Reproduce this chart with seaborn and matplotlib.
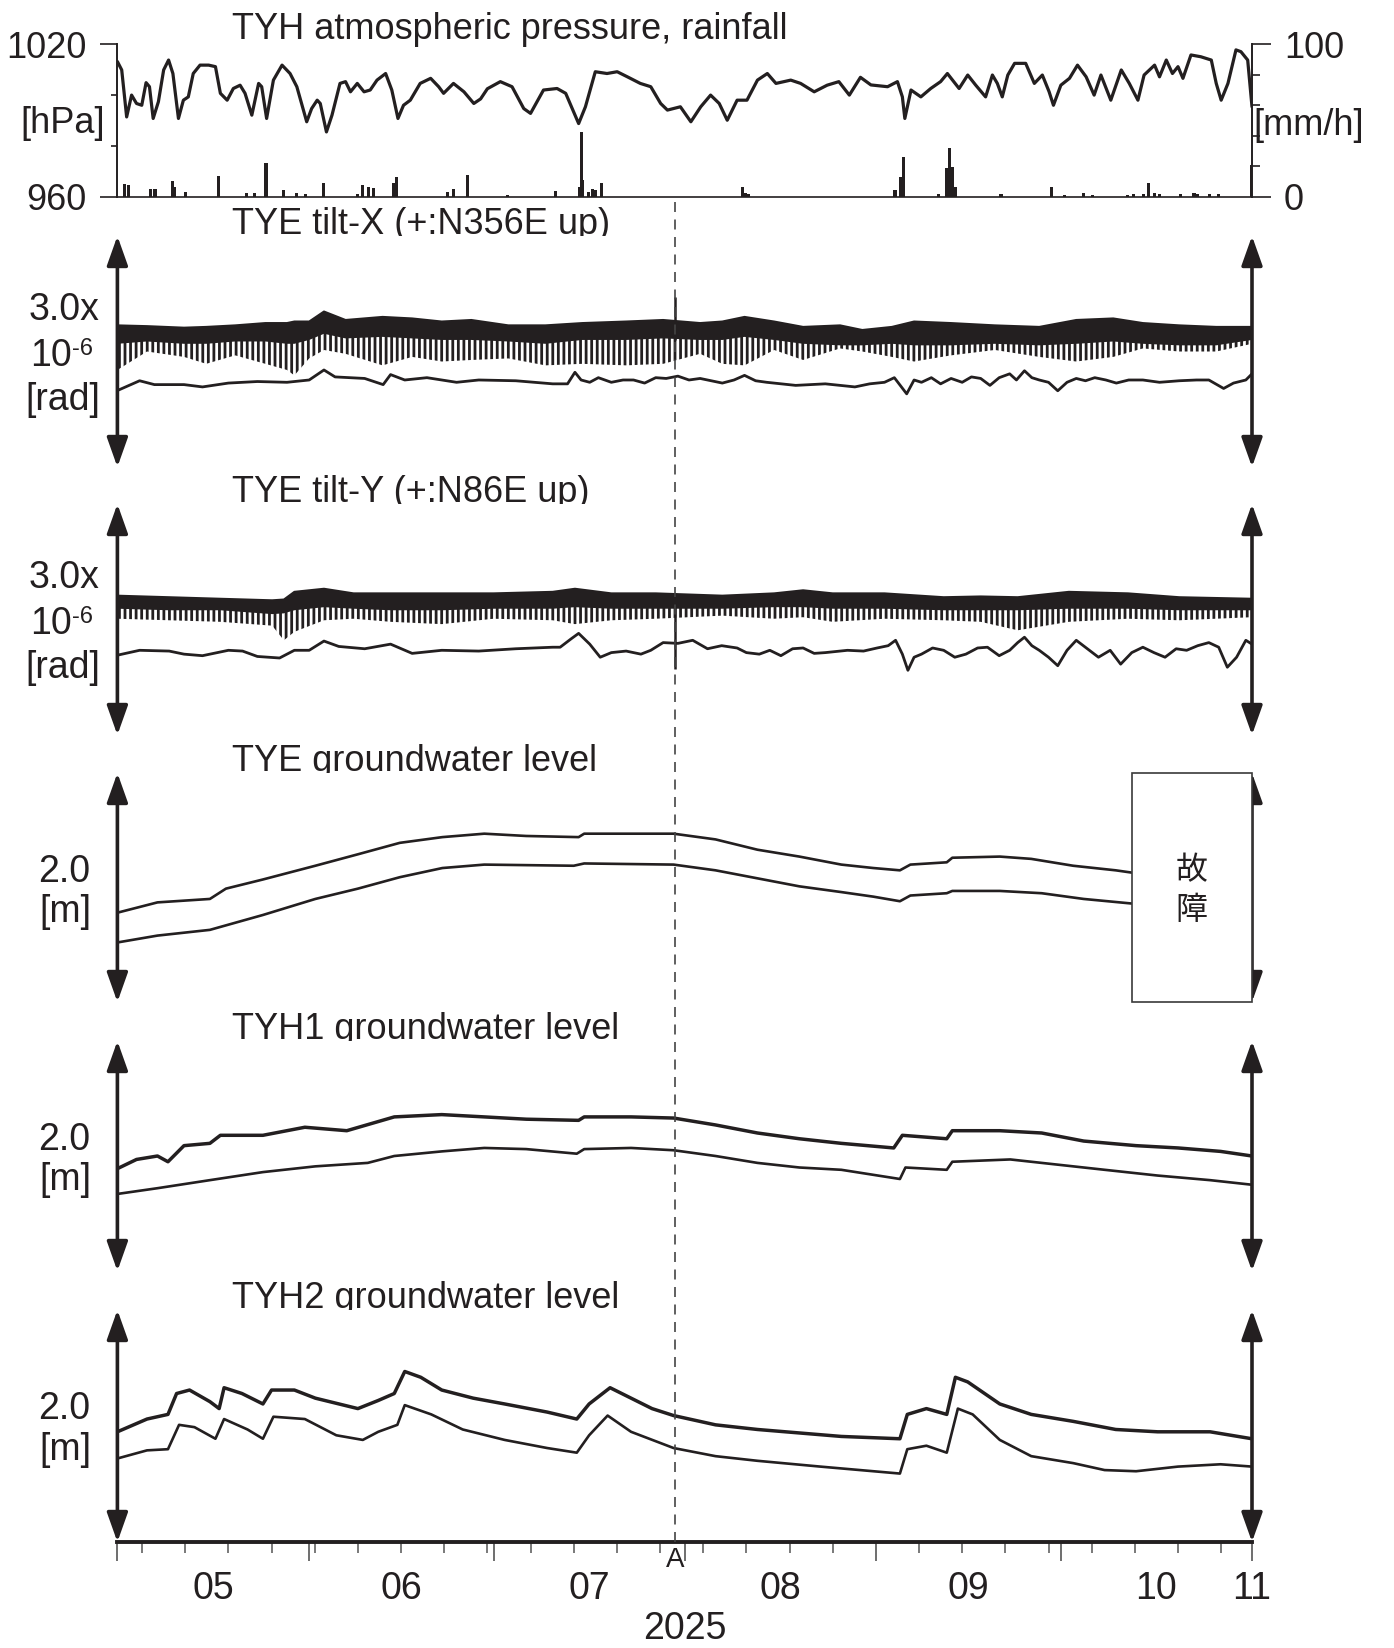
import numpy as np
import pandas as pd
import matplotlib
matplotlib.use("Agg")
import matplotlib.pyplot as plt
import seaborn as sns
from matplotlib.patches import Rectangle

sns.set_theme(style="white")
plt.rcParams["font.family"] = ["Liberation Sans", "DejaVu Sans"]
plt.rcParams["hatch.linewidth"] = 2.0
INK = "#231f20"

# ---------------- data (days since 2025-05-01) ----------------
p_day = [0, 0.7, 1.5, 2.3, 3.1, 3.95, 4.65, 5.2, 5.8, 6.65,
         7.5, 8.3, 9.0, 9.9, 10.7, 11.5, 12.3, 13.4, 14.8, 15.9,
         16.7, 17.8, 18.8, 19.9, 20.7, 21.8, 22.9, 23.4, 24.2, 25.3,
         26.7, 28.0, 29.1, 30.7, 31.5, 32.4, 32.9, 33.9, 34.8, 36.1,
         37.0, 37.8, 38.9, 40.0, 41.0, 42.1, 43.5, 44.5, 45.5, 46.4,
         47.5, 49.1, 50.8, 52.1, 52.9, 54.5, 56.2, 57.8, 58.9, 60.0,
         62.1, 64.0, 65.9, 67.0, 69.1, 71.3, 72.7, 74.0, 74.8, 75.9,
         77.5, 79.4, 81.05, 82.7, 84.8, 86.5, 88.1, 89.2, 91.3, 93.0,
         94.6, 96.2, 97.6, 98.9, 100.5, 102.1, 103.8, 105.4, 106.8, 109.2,
         110.8, 113.0, 115.1, 117.0, 118.7, 120.5, 122.2, 124.9, 126.5, 127.3,
         127.7, 128.7, 130.3, 131.9, 133.5, 134.6, 136.5, 137.9, 139.2, 140.8,
         141.9, 142.7, 143.5, 144.4, 145.5, 147.3, 148.7, 150.0, 151.1, 151.8,
         153.0, 154.4, 155.7, 157.1, 158.4, 159.5, 161.1, 162.8, 164.1, 165.5,
         166.5, 168.2, 169.0, 170.1, 171.1, 172.0, 172.8, 174.1, 175.7, 177.4,
         178.2, 179.0, 180.1, 181.4, 182.2, 183.3, 184.0]
p_hpa = [1013.2, 1009.9, 991.4, 1000.0, 996.7, 996.0, 1004.9, 1003.3, 990.8, 997.4,
         1009.9, 1013.8, 1008.5, 990.8, 998.0, 999.3, 1008.5, 1011.8, 1011.8, 1011.2,
         1000.7, 998.0, 1002.6, 1003.9, 1000.7, 992.1, 1004.6, 1003.3, 990.8, 1005.9,
         1011.8, 1008.5, 1003.3, 989.5, 994.7, 998.0, 996.7, 985.5, 992.1, 1004.6,
         1005.3, 1001.3, 1004.6, 1001.3, 1002.0, 1005.9, 1008.5, 1002.0, 990.8, 996.0,
         998.0, 1004.6, 1006.6, 1003.3, 1000.7, 1004.6, 1001.3, 996.7, 998.5, 1002.5,
         1005.3, 1003.3, 994.7, 992.8, 1002.0, 1002.6, 1000.7, 993.4, 988.8, 995.4,
         1009.2, 1008.5, 1009.2, 1007.2, 1004.6, 1003.3, 996.7, 994.1, 995.4, 989.5,
         995.4, 1000.0, 996.7, 990.1, 998.0, 998.0, 1005.9, 1008.5, 1004.6, 1005.9,
         1004.6, 1001.3, 1003.9, 1005.3, 1000.0, 1007.0, 1004.0, 1003.3, 1005.3, 999.3,
         990.8, 1002.0, 999.3, 1002.6, 1005.3, 1008.5, 1002.6, 1007.9, 1003.9, 999.3,
         1007.9, 1004.6, 999.3, 1007.9, 1012.5, 1012.5, 1004.6, 1007.9, 1001.3, 996.0,
         1003.9, 1006.6, 1011.8, 1007.2, 1000.0, 1007.9, 998.0, 1009.9, 1004.6, 998.0,
         1007.9, 1011.8, 1007.2, 1013.8, 1008.5, 1011.2, 1006.6, 1015.8, 1015.1, 1013.8,
         1004.6, 998.0, 1004.6, 1017.8, 1017.1, 1013.8, 995.4]

r_day = [1.2, 1.8, 5.3, 6.1, 8.9, 9.2, 11.1, 16.4, 21.0, 22.3,
         24.1, 26.9, 29.1, 30.5, 33.4, 38.9, 39.8, 40.7, 41.6, 44.8,
         45.2, 53.5, 54.5, 56.8, 63.2, 71.1, 75.0, 75.2, 75.5, 76.4,
         77.0, 77.5, 78.5, 101.3, 101.9, 102.4, 126.1, 127.0, 127.5, 133.1,
         134.4, 134.9, 135.4, 135.9, 143.3, 151.5, 153.6, 156.7, 158.2, 163.8,
         164.8, 166.4, 167.2, 168.2, 169.0, 172.4, 174.6, 175.1, 177.1, 178.6,
         183.9]
r_mmh = [8.3, 7.7, 4.8, 4.8, 10.5, 6.6, 3.3, 13.6, 2.2, 2.2,
         21.9, 4.4, 2.2, 1.7, 8.7, 1.7, 7.7, 6.6, 5.5, 8.7,
         12.7, 3.3, 4.8, 14.2, 1.3, 3.7, 6.1, 42.6, 10.9, 3.3,
         4.8, 4.4, 9.2, 6.6, 2.6, 1.7, 4.4, 13.1, 25.8, 1.7,
         18.6, 31.7, 19.7, 6.6, 1.7, 6.6, 1.1, 2.2, 1.1, 1.1,
         1.7, 1.7, 8.7, 2.6, 1.5, 1.5, 2.6, 1.7, 1.7, 1.5,
         20.8]

# tilt-X raw record: envelope (top / dense body / tidal spike bottom), 1e-6 rad
tx_band_day = [0.0, 4.8, 10.8, 14.4, 19.1, 24.0, 27.5, 28.7, 31.1, 33.5,
               37.0, 43.0, 47.8, 52.6, 57.4, 63.4, 69.4, 75.4, 82.5, 88.5,
               94.5, 98.1, 101.7, 106.5, 111.2, 117.2, 120.8, 125.6, 129.2, 135.2,
               142.3, 149.5, 155.5, 161.5, 166.3, 172.2, 178.2, 184.0]
tx_top = [1.84, 1.83, 1.81, 1.82, 1.84, 1.87, 1.87, 1.89, 1.89, 2.02,
          1.91, 1.95, 1.93, 1.89, 1.91, 1.84, 1.84, 1.87, 1.89, 1.91,
          1.87, 1.89, 1.95, 1.89, 1.82, 1.84, 1.78, 1.82, 1.89, 1.87,
          1.84, 1.82, 1.91, 1.93, 1.87, 1.84, 1.82, 1.82]
tx_body = [1.60, 1.63, 1.60, 1.60, 1.63, 1.63, 1.60, 1.60, 1.65, 1.73,
           1.67, 1.69, 1.67, 1.65, 1.65, 1.63, 1.60, 1.65, 1.65, 1.67,
           1.65, 1.65, 1.69, 1.65, 1.60, 1.58, 1.58, 1.60, 1.58, 1.58,
           1.60, 1.58, 1.60, 1.63, 1.60, 1.58, 1.58, 1.65]
tx_spike = [1.26, 1.50, 1.43, 1.34, 1.45, 1.34, 1.26, 1.19, 1.41, 1.52,
            1.47, 1.32, 1.43, 1.37, 1.39, 1.41, 1.32, 1.34, 1.32, 1.34,
            1.47, 1.34, 1.32, 1.52, 1.39, 1.54, 1.50, 1.43, 1.37, 1.45,
            1.52, 1.43, 1.37, 1.43, 1.54, 1.50, 1.50, 1.60]
tx_low_day = [0.2, 3.6, 6.0, 10.8, 13.8, 18.0, 22.7, 27.5, 31.1, 33.5,
              35.3, 40.1, 43.1, 44.3, 46.6, 50.2, 55.0, 58.6, 64.6, 70.6,
              73.0, 74.2, 75.2, 76.6, 78.0, 80.1, 82.0, 83.7, 85.5, 87.3,
              89.0, 90.9, 92.7, 94.5, 98.1, 100.0, 101.7, 103.5, 105.3, 110.0,
              114.8, 119.6, 122.0, 124.4, 126.0, 128.0, 129.2, 130.4, 132.0, 133.5,
              135.2, 137.0, 138.5, 140.0, 141.5, 143.0, 144.7, 145.8, 147.1, 148.3,
              149.5, 151.0, 152.5, 154.0, 155.5, 157.0, 158.5, 160.3, 162.0, 164.0,
              166.3, 169.0, 172.2, 175.0, 177.0, 179.4, 181.0, 183.0, 184.0]
tx_low = [1.00, 1.12, 1.07, 1.07, 1.04, 1.09, 1.11, 1.10, 1.13, 1.26,
          1.17, 1.15, 1.07, 1.20, 1.13, 1.16, 1.10, 1.13, 1.12, 1.08,
          1.08, 1.23, 1.13, 1.10, 1.16, 1.10, 1.13, 1.13, 1.09, 1.16,
          1.15, 1.18, 1.13, 1.15, 1.09, 1.13, 1.19, 1.12, 1.10, 1.06,
          1.08, 1.04, 1.08, 1.10, 1.16, 0.95, 1.13, 1.10, 1.16, 1.08,
          1.15, 1.10, 1.17, 1.15, 1.06, 1.16, 1.21, 1.13, 1.25, 1.16,
          1.13, 1.10, 0.99, 1.10, 1.15, 1.12, 1.16, 1.13, 1.09, 1.13,
          1.13, 1.10, 1.12, 1.13, 1.13, 1.02, 1.09, 1.13, 1.21]

ty_band_day = [0.0, 8.4, 16.7, 25.1, 27.0, 28.7, 33.5, 38.3, 44.3, 52.6,
               61.0, 70.6, 74.2, 80.1, 87.3, 98.1, 106.5, 111.2, 116.0, 124.4,
               134.0, 140.0, 146.0, 154.3, 163.9, 172.2, 184.0]
ty_top = [1.81, 1.79, 1.77, 1.75, 1.76, 1.86, 1.90, 1.84, 1.84, 1.84,
          1.84, 1.86, 1.90, 1.84, 1.84, 1.81, 1.84, 1.88, 1.84, 1.84,
          1.79, 1.80, 1.79, 1.86, 1.84, 1.79, 1.77]
ty_body = [1.64, 1.62, 1.62, 1.57, 1.58, 1.62, 1.66, 1.64, 1.62, 1.62,
           1.64, 1.64, 1.66, 1.64, 1.64, 1.64, 1.66, 1.66, 1.64, 1.64,
           1.62, 1.62, 1.62, 1.64, 1.64, 1.62, 1.62]
ty_spike = [1.51, 1.49, 1.47, 1.42, 1.23, 1.34, 1.49, 1.51, 1.47, 1.44,
            1.51, 1.49, 1.44, 1.49, 1.51, 1.55, 1.51, 1.53, 1.47, 1.51,
            1.49, 1.47, 1.36, 1.47, 1.51, 1.49, 1.53]
ty_low_day = [0.2, 3.6, 8.4, 10.8, 13.8, 18.0, 20.3, 22.7, 26.3, 28.7,
              31.1, 33.5, 35.9, 40.1, 44.3, 47.8, 52.6, 58.6, 64.6, 70.6,
              71.8, 73.6, 74.8, 76.6, 78.3, 80.1, 82.5, 84.9, 86.5, 88.5,
              90.9, 93.3, 95.7, 98.0, 100.5, 102.0, 104.1, 105.8, 107.6, 109.5,
              111.2, 113.0, 114.8, 118.4, 121.0, 123.2, 125.0, 126.2, 127.3, 128.2,
              129.2, 130.4, 132.2, 134.0, 135.8, 137.6, 139.5, 141.1, 143.0, 144.7,
              146.0, 147.1, 148.3, 149.5, 151.0, 152.5, 154.0, 155.5, 157.3, 159.1,
              161.0, 162.7, 164.5, 166.3, 168.1, 169.9, 171.7, 173.4, 175.2, 177.0,
              178.6, 180.0, 181.5, 183.0, 184.0]
ty_low = [1.04, 1.10, 1.09, 1.05, 1.03, 1.10, 1.09, 1.02, 1.00, 1.10,
          1.10, 1.22, 1.15, 1.12, 1.18, 1.06, 1.10, 1.09, 1.12, 1.14,
          1.14, 1.25, 1.32, 1.18, 1.01, 1.07, 1.09, 1.05, 1.10, 1.20,
          1.19, 1.23, 1.12, 1.16, 1.13, 1.07, 1.05, 1.10, 1.03, 1.12,
          1.13, 1.06, 1.07, 1.10, 1.09, 1.13, 1.16, 1.23, 1.05, 0.84,
          1.01, 1.05, 1.13, 1.10, 1.01, 1.05, 1.13, 1.14, 1.03, 1.10,
          1.20, 1.27, 1.16, 1.10, 1.01, 0.90, 1.10, 1.23, 1.12, 1.01,
          1.10, 0.92, 1.07, 1.14, 1.07, 1.01, 1.12, 1.10, 1.16, 1.20,
          1.14, 0.88, 1.01, 1.23, 1.18]
a_day = 90.4          # event "A"
tx_a_peak = 2.21
ty_a_dip = 0.86

# groundwater levels [m] (relative)
tye_up_day = [0.0, 6.5, 15.0, 17.6, 23.6, 32.1, 39.0, 45.8, 52.7, 59.5,
              66.3, 74.8, 75.7, 83.3, 90.2, 97.0, 103.8, 110.6, 117.4, 122.6,
              126.9, 128.6, 134.5, 135.4, 143.1, 148.2, 155.0, 161.9, 164.5]
tye_up = [0.78, 0.87, 0.90, 0.99, 1.07, 1.19, 1.29, 1.39, 1.44, 1.47,
          1.45, 1.44, 1.47, 1.47, 1.47, 1.42, 1.33, 1.27, 1.20, 1.17,
          1.15, 1.20, 1.22, 1.26, 1.27, 1.25, 1.19, 1.15, 1.13]
tye_lo_day = [0.0, 6.5, 15.0, 23.6, 32.1, 39.0, 45.8, 52.7, 59.5, 74.0,
              75.7, 90.2, 97.0, 103.8, 110.6, 117.4, 122.6, 126.9, 128.6, 134.5,
              135.4, 143.1, 149.9, 156.7, 164.5]
tye_lo = [0.52, 0.58, 0.63, 0.76, 0.90, 0.99, 1.09, 1.17, 1.20, 1.19,
          1.21, 1.20, 1.15, 1.08, 1.01, 0.96, 0.92, 0.88, 0.93, 0.95,
          0.97, 0.97, 0.95, 0.90, 0.86]
tye_fault_start = 164.5

tyh1_up_day = [0.0, 3.1, 6.5, 8.2, 10.8, 15.0, 16.7, 23.6, 30.4, 37.2,
               44.9, 52.6, 59.5, 66.3, 74.8, 75.7, 83.3, 90.2, 97.0, 103.8,
               110.6, 117.4, 125.9, 127.3, 134.5, 135.4, 143.1, 149.9, 156.7, 165.2,
               172.0, 178.9, 184.0]
tyh1_up = [0.89, 0.97, 1.00, 0.95, 1.09, 1.11, 1.18, 1.18, 1.25, 1.22,
           1.34, 1.36, 1.34, 1.32, 1.31, 1.34, 1.34, 1.33, 1.27, 1.20,
           1.15, 1.11, 1.07, 1.18, 1.15, 1.22, 1.22, 1.20, 1.13, 1.09,
           1.07, 1.04, 1.00]
tyh1_lo_day = [0.0, 6.5, 15.0, 23.6, 32.1, 40.6, 44.9, 52.6, 59.5, 66.3,
               74.5, 75.7, 83.3, 90.2, 97.0, 103.8, 110.6, 117.4, 126.9, 127.8,
               134.5, 135.4, 144.8, 151.6, 160.1, 168.7, 177.2, 184.0]
tyh1_lo = [0.67, 0.72, 0.79, 0.86, 0.91, 0.94, 1.00, 1.04, 1.07, 1.06,
           1.02, 1.06, 1.07, 1.05, 1.00, 0.94, 0.90, 0.88, 0.80, 0.90,
           0.88, 0.95, 0.97, 0.93, 0.88, 0.83, 0.79, 0.75]

tyh2_up_day = [0.0, 4.8, 8.2, 9.6, 11.7, 15.0, 16.5, 17.3, 20.2, 23.6,
               25.0, 28.7, 32.1, 39.0, 42.3, 44.9, 46.6, 49.2, 52.6, 57.7,
               62.8, 69.7, 74.5, 76.5, 79.9, 83.3, 86.7, 90.2, 97.0, 103.8,
               110.6, 117.4, 126.9, 128.1, 131.2, 134.5, 135.9, 137.9, 143.1, 148.2,
               155.0, 161.9, 168.7, 177.2, 184.0]
tyh2_up = [0.95, 1.06, 1.10, 1.28, 1.31, 1.21, 1.15, 1.33, 1.28, 1.19,
           1.31, 1.31, 1.24, 1.15, 1.22, 1.28, 1.47, 1.42, 1.31, 1.24,
           1.19, 1.12, 1.06, 1.19, 1.33, 1.24, 1.15, 1.09, 1.01, 0.97,
           0.94, 0.91, 0.89, 1.10, 1.15, 1.10, 1.42, 1.38, 1.19, 1.10,
           1.04, 0.97, 0.95, 0.95, 0.89]
tyh2_lo_day = [0.0, 4.8, 8.2, 10.0, 12.5, 15.9, 17.3, 21.1, 23.6, 25.3,
               30.4, 35.5, 39.8, 42.3, 45.4, 46.6, 50.9, 56.0, 62.8, 69.7,
               74.5, 76.5, 79.5, 83.3, 90.2, 97.0, 103.8, 114.0, 126.9, 128.1,
               131.2, 134.5, 136.3, 138.7, 143.1, 148.2, 155.0, 160.1, 165.2, 172.0,
               178.9, 184.0]
tyh2_lo = [0.72, 0.79, 0.80, 1.01, 0.99, 0.89, 1.06, 0.97, 0.89, 1.08,
           1.06, 0.92, 0.88, 0.95, 1.01, 1.18, 1.10, 0.97, 0.88, 0.81,
           0.77, 0.92, 1.09, 0.95, 0.81, 0.74, 0.70, 0.65, 0.59, 0.80,
           0.83, 0.77, 1.15, 1.10, 0.88, 0.74, 0.68, 0.62, 0.61, 0.65,
           0.67, 0.65]

titles = ["TYH atmospheric pressure, rainfall", "TYE tilt-X (+:N356E up)",
          "TYE tilt-Y (+:N86E up)", "TYE groundwater level",
          "TYH1 groundwater level", "TYH2 groundwater level"]
month_labels = ["05", "06", "07", "08", "09", "10", "11"]

# ---------------- layout ----------------
W, H = 1394, 1648
fig = plt.figure(figsize=(W / 100, H / 100), dpi=100)
fig.patch.set_facecolor("white")
X0, X1 = 117.4, 1252.0
start = pd.Timestamp("2025-05-01")
end = pd.Timestamp("2025-11-01")
NDAYS = (end - start).days
NUM = 26          # numeric label size
LAB = 27          # unit label size
TTL = 26          # panel title size


def rect(top, bot):
    return [X0 / W, 1 - bot / H, (X1 - X0) / W, (bot - top) / H]


def ftext(x, y, s, size=LAB, ha="right", va="baseline", **kw):
    kw.setdefault("color", INK)
    return fig.text(x / W, 1 - y / H, s, fontsize=size, ha=ha, va=va, **kw)


def line(ax, d, v, lw):
    sns.lineplot(x=d, y=v, ax=ax, color=INK, lw=lw, sort=False,
                 estimator=None, legend=False)


def arrows(ax, ytop):
    for xd in (0, NDAYS):
        ax.annotate("", xy=(xd, ytop), xytext=(xd, 0), xycoords="data",
                    arrowprops=dict(arrowstyle="<|-|>,head_length=0.45,head_width=0.16",
                                    color=INK, lw=2.6, mutation_scale=40,
                                    shrinkA=0, shrinkB=0),
                    annotation_clip=False)


def bare(ax, ytop):
    ax.set_xlim(0, NDAYS)
    ax.set_ylim(0, ytop)
    ax.set_facecolor("white")
    for s in ax.spines.values():
        s.set_visible(False)
    ax.set_xticks([])
    ax.set_yticks([])
    ax.set_xlabel("")
    ax.set_ylabel("")


# ---- panel 1: pressure + rainfall
ax0 = fig.add_axes(rect(44.3, 196.7))
ax0r = ax0.twinx()
ax0r.set_position(rect(44.3, 196.7))
ax0.set_xlim(0, NDAYS)
ax0.set_ylim(960, 1020)
ax0r.set_ylim(0, 100)
ax0r.bar(r_day, r_mmh, width=0.5, color=INK, linewidth=0)
line(ax0, p_day, p_hpa, 2.3)
for a in (ax0, ax0r):
    a.set_xticks([])
    a.set_xlabel("")
    a.set_ylabel("")
    a.spines["top"].set_visible(False)
ax0.spines["right"].set_visible(False)
ax0r.spines["left"].set_visible(False)
ax0r.spines["bottom"].set_visible(False)
ax0.spines["left"].set_linewidth(1.4)
ax0.spines["bottom"].set_linewidth(1.2)
ax0r.spines["right"].set_linewidth(1.4)
for s in ("left", "bottom"):
    ax0.spines[s].set_color(INK)
ax0r.spines["right"].set_color(INK)
ax0.set_yticks([960, 1020])
ax0.set_yticklabels(["960", "1020"], fontsize=NUM, color=INK)
ax0.set_yticks([980, 1000], minor=True)
ax0.tick_params(axis="y", which="major", direction="out", length=12, width=1.2,
                color=INK, pad=10, left=True)
ax0.tick_params(axis="y", which="minor", direction="out", length=4.5, width=1.2,
                color=INK, left=True)
ax0r.set_yticks([0, 100])
ax0r.set_yticklabels(["0", "100"], fontsize=NUM, color=INK)
ax0r.set_yticks([20, 40, 60, 80], minor=True)
ax0r.tick_params(axis="y", which="major", direction="out", length=14, width=1.2,
                 color=INK, pad=9, right=True)
ax0r.tick_params(axis="y", which="minor", direction="out", length=6, width=1.2,
                 color=INK, right=True)
ftext(105, 133, "[hPa]", size=NUM)
ftext(1253, 135, "[mm/h]", ha="left", size=NUM)
ftext(232, 39, titles[0], size=TTL, ha="left")

panels = [(236, 467), (504, 735), (773, 1002), (1041, 1271), (1310, 1542)]

# ---- tilt panels
tilt_sets = [(tx_band_day, tx_top, tx_body, tx_spike, tx_low_day, tx_low),
             (ty_band_day, ty_top, ty_body, ty_spike, ty_low_day, ty_low)]
axes = []
for k, (bd, tp, bo, sp, ld, lv) in enumerate(tilt_sets):
    top, bot = panels[k]
    ax = fig.add_axes(rect(top, bot))
    axes.append(ax)
    ax.fill_between(bd, tp, sp, facecolor="none", edgecolor=INK, hatch="|||",
                    linewidth=0)
    ax.fill_between(bd, tp, bo, facecolor="none", edgecolor=INK, hatch="||||||",
                    linewidth=0)
    line(ax, bd, tp, 1.4)
    line(ax, ld, lv, 2.0)
    bare(ax, 3.0)
    arrows(ax, 3.0)
    ftext(232, top - 2, titles[1 + k], size=TTL, ha="left", zorder=-1)
    ftext(99, top + 84, "3.0x")
    ftext(72, top + 130.5, "10")
    ftext(72, top + 119, "-6", size=17, ha="left")
    ftext(100, top + 174, "[rad]")
axes[0].vlines(a_day, 1.65, tx_a_peak, color=INK, lw=1.8)
axes[1].vlines(a_day, ty_a_dip, 1.85, color=INK, lw=1.8)

# ---- groundwater panels
gw_sets = [(tye_up_day, tye_up, tye_lo_day, tye_lo),
           (tyh1_up_day, tyh1_up, tyh1_lo_day, tyh1_lo),
           (tyh2_up_day, tyh2_up, tyh2_lo_day, tyh2_lo)]
for k, (ud, uv, ld, lv) in enumerate(gw_sets):
    top, bot = panels[2 + k]
    ax = fig.add_axes(rect(top, bot))
    axes.append(ax)
    line(ax, ud, uv, 2.5 if k > 0 else 1.9)
    line(ax, ld, lv, 1.9)
    bare(ax, 2.0)
    arrows(ax, 2.0)
    ftext(232, top - 2, titles[3 + k], size=TTL, ha="left", zorder=-1)
    ftext(90, top + 109, "2.0", size=NUM + 1)
    ftext(91, top + 149.5, "[m]")

# fault box on TYE
axg = axes[2]
axg.add_patch(Rectangle((tye_fault_start, 0), NDAYS - tye_fault_start, 2.0,
                        facecolor="white", edgecolor="#3a3a3a", lw=1.2, zorder=3,
                        clip_on=False))
cx = (tye_fault_start + NDAYS) / 2
for ch, yy in (("故", 1.15), ("障", 0.80)):
    axg.text(cx, yy, ch, fontsize=23, ha="center", va="center", color=INK,
             family=["Noto Sans CJK JP"], zorder=4)

# ---- time axis on the last panel
axb = axes[-1]
axb.spines["bottom"].set_visible(True)
axb.spines["bottom"].set_linewidth(2.8)
axb.spines["bottom"].set_color(INK)
month_starts = [(pd.Timestamp(f"2025-{m:02d}-01") - start).days for m in range(5, 12)]
weekly = [(d - start).days for d in pd.date_range("2025-05-05", end, freq="7D")]
axb.set_xticks(month_starts)
axb.set_xticklabels([])
axb.set_xticks(weekly, minor=True)
axb.tick_params(axis="x", which="major", direction="out", length=14, width=1.2,
                color="#555555", bottom=True)
axb.tick_params(axis="x", which="minor", direction="out", length=8, width=1.1,
                color="#555555", bottom=True)
span = 1542 - 1310
mid = [(month_starts[i] + month_starts[i + 1]) / 2 for i in range(6)] + [month_starts[6]]
for xm, lab in zip(mid, month_labels):
    axb.text(xm, -(1599 - 1542) / span, lab, transform=axb.get_xaxis_transform(),
             fontsize=NUM + 1, ha="center", va="baseline", color=INK)
axb.text(NDAYS / 2, -(1639 - 1542) / span, "2025",
         transform=axb.get_xaxis_transform(), fontsize=NUM + 1, ha="center",
         va="baseline", color=INK)
axb.text(a_day, -(1567 - 1542) / span, "A",
         transform=axb.get_xaxis_transform(), fontsize=20, ha="center",
         va="baseline", color=INK)
axb.axvline(a_day, ymin=0, ymax=(1542 - 200) / span, clip_on=False,
            color="#444444", lw=1.2, dashes=(6, 4.5), zorder=5)

fig.savefig("out.png", dpi=100, facecolor="white")
